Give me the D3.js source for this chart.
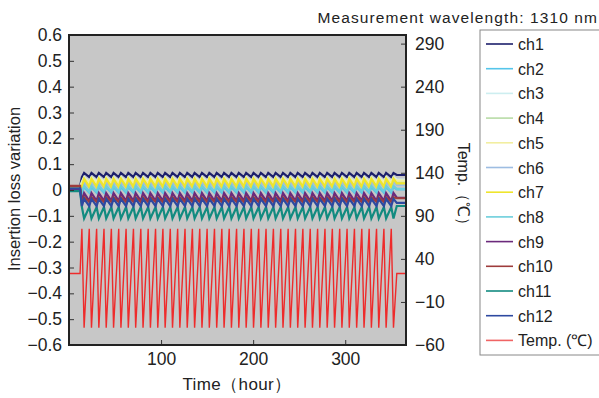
<!DOCTYPE html>
<html>
<head>
<meta charset="utf-8">
<script src="https://cdn.jsdelivr.net/npm/d3@7"></script>
<style>
  body { margin: 0; background: #fff; }
  text { font-family: "Liberation Sans", Arial, sans-serif; fill: #222; }
</style>
</head>
<body>
<script>
// --- data ---
const leftTicks = [-0.6, -0.5, -0.4, -0.3, -0.2, -0.1, 0, 0.1, 0.2, 0.3, 0.4, 0.5, 0.6];
const rightTicks = [-60, -10, 40, 90, 140, 190, 240, 290];
const timeTicks = [100, 200, 300];

// hours at which each thermal cycle reaches its hot peak
const peakHours = [14, 22, 30, 38, 46, 54, 62, 70, 78, 86, 94, 102, 110, 118, 126, 134, 142, 150,
  158, 166, 174, 182, 190, 198, 206, 214, 222, 230, 238, 246, 254, 262, 270, 278, 286, 294,
  302, 310, 318, 326, 334, 342, 350];
const coolHours = 2.4;        // peak -> valley
const tempIdle = 23;
const tempHot = 75;
const tempCold = -40;
const endHour = 366;

const channels = ['ch1', 'ch2', 'ch3', 'ch4', 'ch5', 'ch6', 'ch7', 'ch8', 'ch9', 'ch10', 'ch11', 'ch12'];
const chStart = [0.014, 0.004, 0.010, 0.008, 0.010, 0.006, 0.012, 0.002, 0.002, 0.016, -0.004, 0.006];
const chHot   = [0.050, -0.010, 0.032, 0.022, 0.028, 0.012, 0.012, -0.006, -0.042, -0.046, -0.066, -0.062];
const chCold  = [0.066, 0.012, 0.050, 0.040, 0.046, 0.030, 0.044, 0.016, -0.012, -0.028, -0.110, -0.034];
const chEnd   = [0.058, 0.002, 0.040, 0.030, 0.036, 0.020, 0.026, 0.004, -0.030, -0.032, -0.062, -0.050];
const colors = ['#1c1f6b', '#55c5ea', '#cdeef0', '#b8dca6', '#f2eea0', '#9dbde2', '#efe52c',
  '#6ccfdc', '#6b2a7c', '#9e3c3c', '#128b80', '#2e49a0'];
const tempColor = '#ee2b2b';

// --- build series ---
const states = [['idle0', 0], ['idle0', peakHours[0] - 2]];
peakHours.forEach(h => { states.push(['hot', h]); states.push(['cold', h + coolHours]); });
const last = peakHours[peakHours.length - 1];
states.push(['idle1', last + 6]);
states.push(['idle1', endHour]);

const tempSeries = states.map(([s, h]) => ({
  h, v: s === 'hot' ? tempHot : s === 'cold' ? tempCold : tempIdle
}));
const chSeries = channels.map((c, i) => states.map(([s, h]) => ({
  h, v: s === 'hot' ? chHot[i] : s === 'cold' ? chCold[i] : s === 'idle0' ? chStart[i] : chEnd[i]
})));

// --- layout ---
const W = 599, H = 398;
const L = 69, R = 406, T = 35, B = 345;

const svg = d3.select('body').append('svg').attr('width', W).attr('height', H);

const x = d3.scaleLinear().domain([0, endHour]).range([L, R]);
const yL = d3.scaleLinear().domain([-0.6, 0.6]).range([B, T]);
const yR = d3.scaleLinear().domain([-60, 300]).range([B, T]);

svg.append('defs').append('clipPath').attr('id', 'clip')
  .append('rect').attr('x', L).attr('y', T).attr('width', R - L).attr('height', B - T);

svg.append('rect').attr('x', L).attr('y', T).attr('width', R - L).attr('height', B - T)
  .attr('fill', '#c7c7c7');

const plot = svg.append('g').attr('clip-path', 'url(#clip)');

const lineL = d3.line().x(d => x(d.h)).y(d => yL(d.v));
const lineR = d3.line().x(d => x(d.h)).y(d => yR(d.v));

chSeries.forEach((s, i) => {
  plot.append('path').datum(s).attr('d', lineL)
    .attr('fill', 'none').attr('stroke', colors[i]).attr('stroke-width', 2.2);
});
plot.append('path').datum(tempSeries).attr('d', lineR)
  .attr('fill', 'none').attr('stroke', tempColor).attr('stroke-width', 1.4);

// axes
const fmt = d => d === 0 ? '0' : d3.format('.1f')(d);
const gl = svg.append('g').attr('transform', `translate(${L},0)`)
  .call(d3.axisLeft(yL).tickValues(leftTicks).tickSize(-5).tickPadding(7).tickFormat(fmt));
const gr = svg.append('g').attr('transform', `translate(${R},0)`)
  .call(d3.axisRight(yR).tickValues(rightTicks).tickSize(-5).tickPadding(9));
const gx = svg.append('g').attr('transform', `translate(0,${B})`)
  .call(d3.axisBottom(x).tickValues(timeTicks).tickSize(-5).tickPadding(8));

[gl, gr, gx].forEach(g => {
  g.select('.domain').remove();
  g.selectAll('line').attr('stroke', '#333');
  g.selectAll('text').style('font-size', '17.5px').attr('fill', '#222');
});

svg.append('rect').attr('x', L).attr('y', T).attr('width', R - L).attr('height', B - T)
  .attr('fill', 'none').attr('stroke', '#222').attr('stroke-width', 2);

// titles
svg.append('text').attr('transform', `translate(20,${(T + B) / 2 - 1}) rotate(-90)`)
  .attr('text-anchor', 'middle').style('font-size', '16.5px').text('Insertion loss variation');
svg.append('text').attr('transform', `translate(458,188) rotate(90)`)
  .attr('text-anchor', 'middle').style('font-size', '16px').text('Temp.（℃）');
svg.append('text').attr('x', 237).attr('y', 390)
  .attr('text-anchor', 'middle').style('font-size', '17px').style('letter-spacing', '0.4px')
  .text('Time（hour）');
svg.append('text').attr('x', 598).attr('y', 23)
  .attr('text-anchor', 'end').style('font-size', '15.5px').style('letter-spacing', '1.1px')
  .text('Measurement wavelength: 1310 nm');

// legend
const lg = svg.append('g');
lg.append('rect').attr('x', 480).attr('y', 30).attr('width', 130).attr('height', 325)
  .attr('fill', '#fff').attr('stroke', '#888').attr('stroke-width', 1);
const legendItems = channels.map((c, i) => ({ name: c, color: colors[i] }))
  .concat([{ name: 'Temp. (℃)', color: '#f06464' }]);
legendItems.forEach((d, i) => {
  const yy = 44 + i * 24.7;
  lg.append('line').attr('x1', 486).attr('x2', 513).attr('y1', yy).attr('y2', yy)
    .attr('stroke', d.color).attr('stroke-width', 1.6);
  lg.append('text').attr('x', 518).attr('y', yy + 6).style('font-size', '16px').text(d.name);
});
</script>
</body>
</html>
